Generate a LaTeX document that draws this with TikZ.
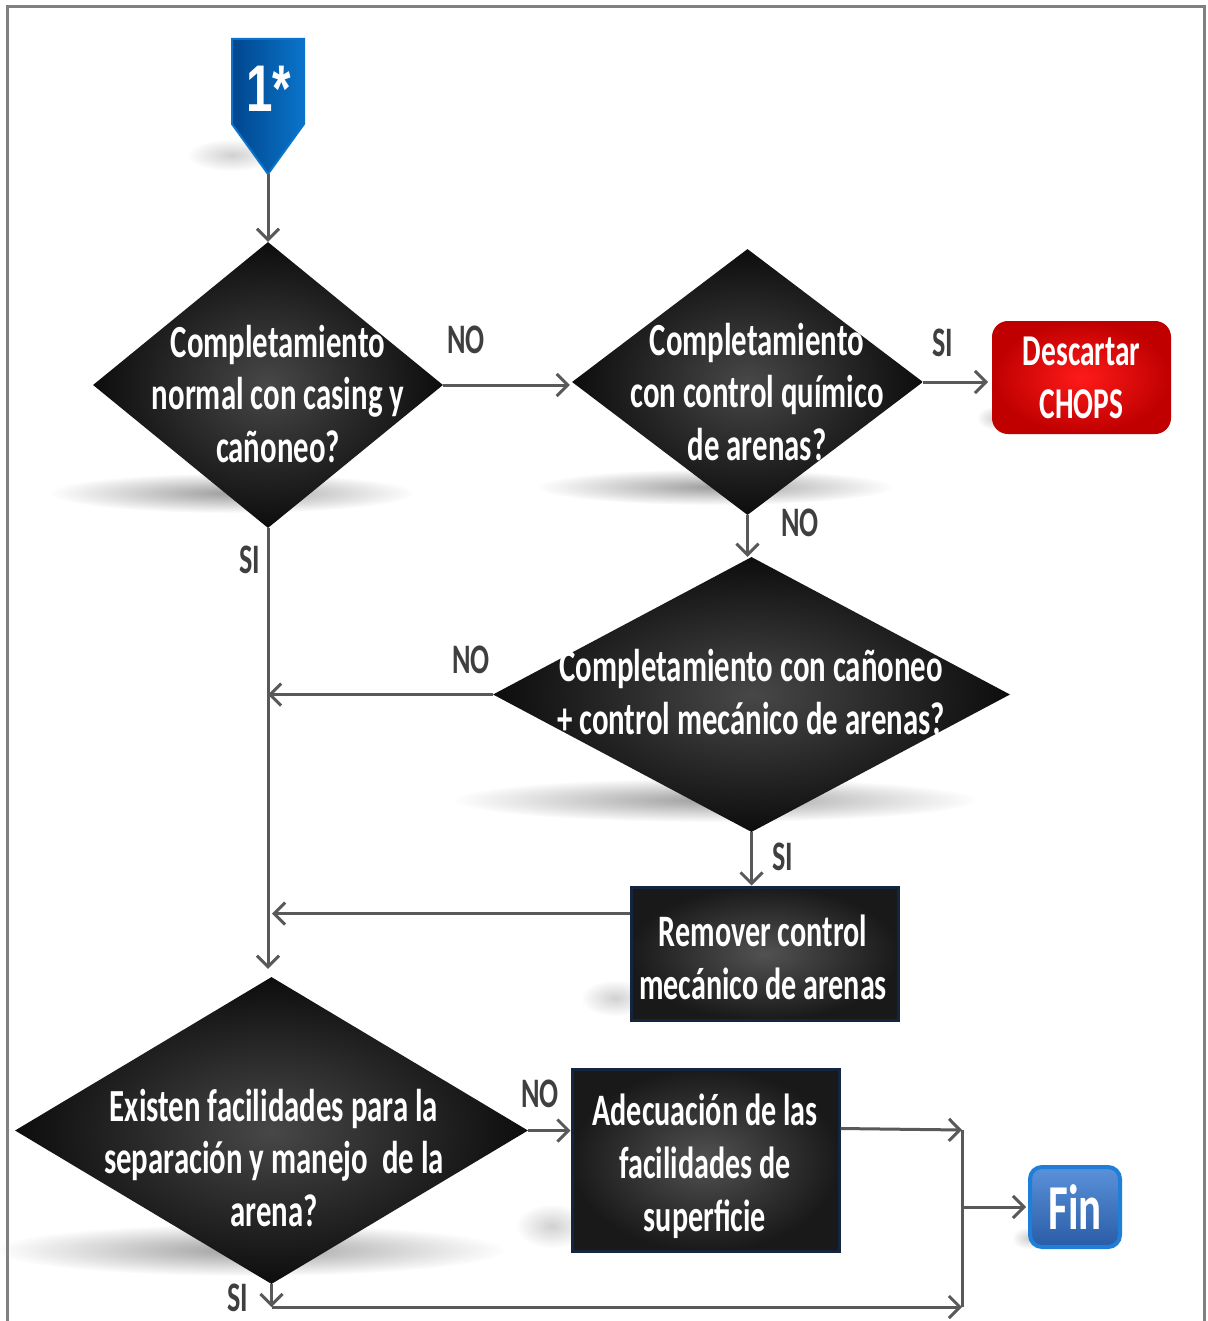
\documentclass[tikz,border=0pt]{standalone}
\usepackage{fontspec}
\newfontfamily\calb{Carlito}[FakeStretch=0.67]
\newfontfamily\arialb{Liberation Sans}[FakeStretch=0.72]
\usetikzlibrary{arrows.meta,shapes.geometric,fadings,calc}
\definecolor{cline}{HTML}{595959}
\definecolor{labc}{HTML}{3F3F3F}
\definecolor{framec}{HTML}{808080}
\definecolor{navyb}{HTML}{14263F}
\definecolor{redin}{HTML}{FF1A1A}
\definecolor{redout}{HTML}{C00000}
\definecolor{finb}{HTML}{1F7FD8}
\definecolor{fintop}{HTML}{5A92DA}
\definecolor{finbot}{HTML}{2A5CA6}
\definecolor{stl}{HTML}{00468E}
\definecolor{str}{HTML}{0A74CA}
\tikzfading[name=fuzzy, inner color=transparent!0, outer color=transparent!100]
\tikzset{
  frame/.style={draw=framec, line width=3pt},
  conn/.style={draw=cline, line width=3pt, -{Straight Barb[length=11pt,width=22pt]}},
  plainline/.style={draw=cline, line width=3pt},
  dia/.style={shape=diamond, inner sep=0pt, shading=radial, inner color=black!72, outer color=black!95},
  dtext/.style={text=white, font=\calb\bfseries\fontsize{46}{52.5}\selectfont, align=center, inner sep=0pt},
  darkbox/.style={rectangle, draw=navyb, line width=3pt, shading=radial, inner color=black!68, outer color=black!90, inner sep=0pt},
  btext/.style={text=white, font=\calb\bfseries\fontsize{45}{53}\selectfont, align=center, inner sep=0pt},
  redbox/.style={rectangle, rounded corners=15pt, draw=redout, line width=2pt, shading=radial, inner color=redin, outer color=redout, text=white, font=\calb\bfseries\fontsize{44}{53}\selectfont, align=center, inner sep=0pt},
  finbox/.style={rectangle, rounded corners=12pt, draw=finb, line width=4pt, top color=fintop, bottom color=finbot, text=white, font=\calb\bfseries\fontsize{64}{70}\selectfont, inner sep=0pt},
  lab/.style={text=labc, font=\calb\bfseries\fontsize{42}{48}\selectfont, inner sep=0pt},
  shad/.style={fill=black!38, path fading=fuzzy},
  lightshad/.style={fill=black!18, path fading=fuzzy},
  startmark/.style={left color=stl, right color=str, draw=str, line width=2pt}
}
\begin{document}
\begin{tikzpicture}[x=1pt,y=-1pt]
\useasboundingbox (0,0) rectangle (1207,1321);
\fill[white] (0,0) rectangle (1207,1321);
\draw[frame] (7,1321) -- (7,7) -- (1204,7) -- (1204,1321);

% shadows
\fill[lightshad] (232,155) ellipse [x radius=45, y radius=16];
\fill[shad] (232,493) ellipse [x radius=182, y radius=20];
\fill[shad] (715,487) ellipse [x radius=178, y radius=18];
\fill[shad] (715,800) ellipse [x radius=262, y radius=22];
\fill[shad] (250,1250) ellipse [x radius=255, y radius=26];
\fill[lightshad] (615,998) ellipse [x radius=34, y radius=18];
\fill[lightshad] (552,1226) ellipse [x radius=36, y radius=22];
\fill[lightshad] (995,418) ellipse [x radius=18, y radius=12];
\fill[lightshad] (1028,1238) ellipse [x radius=16, y radius=11];

% start marker
\path[startmark] (232,39) -- (304,39) -- (304,124) -- (268,174) -- (232,124) -- cycle;
\node[text=white, font=\arialb\bfseries\fontsize{66}{70}\selectfont, inner sep=0pt] (start) at (269,89) {1*};
\coordinate (startpt) at (268,174);

% decisions
\node[dia, minimum width=350pt, minimum height=286pt] (d1) at (268,385) {};
\node[dtext] (d1t) at (278,394) {Completamiento\\normal con casing y\\cañoneo?};
\node[dia, minimum width=351pt, minimum height=266pt] (d2) at (747.5,382) {};
\node[dtext] (d2t) at (757,392) {Completamiento\\con control químico\\de arenas?};
\node[dia, minimum width=517pt, minimum height=275pt] (d3) at (751.5,694.5) {};
\node[dtext] (d3t) at (751,692) {Completamiento con cañoneo\\+ control mecánico de arenas?};
\node[dia, minimum width=513pt, minimum height=307pt] (d4) at (271.5,1130.5) {};
\node[dtext] (d4t) at (274,1158) {Existen facilidades para la\\separación y manejo\ \ de la\\arena?};

% boxes
\node[redbox, minimum width=177pt, minimum height=111pt] (desc) at (1081.5,377.5) {Descartar\\CHOPS};
\node[darkbox, minimum width=267pt, minimum height=133pt] (rem) at (764.5,953.5) {};
\node[btext] (remt) at (763,957) {Remover control\\mecánico de arenas};
\node[darkbox, minimum width=267pt, minimum height=182pt] (adec) at (705.5,1160) {};
\node[btext] (adect) at (705,1166) {Adecuación de las\\facilidades de\\superficie};
\node[finbox, minimum width=90pt, minimum height=80pt] (fin) at (1075,1207) {Fin};

% connectors
\draw[conn] (startpt) -- (d1.north);
\draw[conn] (d1.east) -- ([xshift=-2pt]d1.east -| d2.west);
\draw[conn] (d2.east) -- ([xshift=-4pt]d2.east -| desc.west);
\draw[conn] (d2.south) -- (d2.south |- d3.north);
\draw[conn] (d3.west) -- (d3.west -| d1.south);
\draw[conn] (d3.south) -- (d3.south |- rem.north);
\coordinate (remin) at ([yshift=-28pt]rem.north west);
\draw[conn] (remin) -- ([xshift=4pt]remin -| d1.south);
\draw[conn] (d1.south) -- ([yshift=8pt]d1.south |- d4.north);
\draw[conn] (d4.east) -- (d4.east -| adec.west);
\coordinate (adout) at ([yshift=-61pt]adec.north east);
\coordinate (j1) at (962,1130);
\coordinate (j2) at (962,1307);
\draw[conn] (adout) -- (j1);
\draw[plainline] (j1) -- (j2);
\draw[conn] (j1 |- fin.west) -- ([xshift=-2pt]fin.west);
\coordinate (d4b) at (d4.south |- j2);
\draw[conn] (d4.south) -- (d4b);
\draw[conn] (d4b) -- (j2);

% labels
\node[lab] (l1) at (466,340) {NO};
\node[lab] (l2) at (943,343) {SI};
\node[lab] (l3) at (800,523) {NO};
\node[lab] (l4) at (250,560) {SI};
\node[lab] (l5) at (471,660) {NO};
\node[lab] (l6) at (783,857) {SI};
\node[lab] (l7) at (540,1094) {NO};
\node[lab] (l8) at (238,1298) {SI};
\end{tikzpicture}
\end{document}
